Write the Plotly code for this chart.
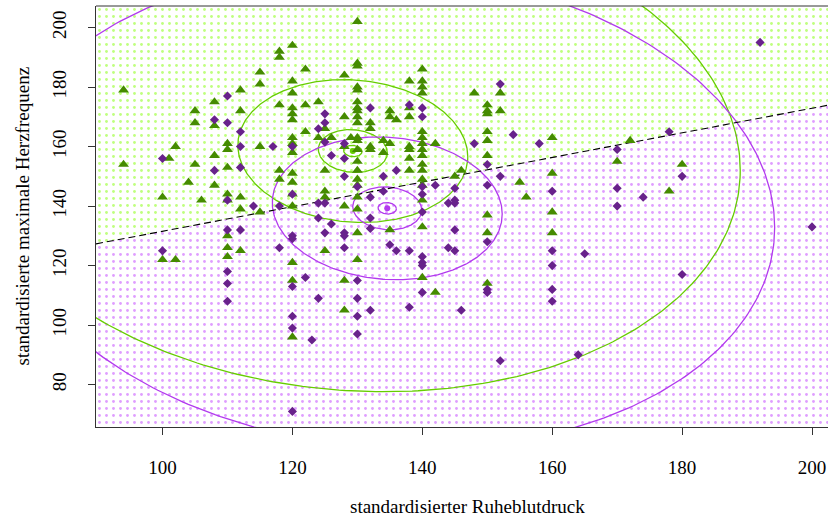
import numpy as np
import plotly.graph_objects as go

# ---- observations: resting blood pressure (x) vs. max heart rate (y) ----
healthy_x = [120, 118, 118, 122, 115, 115, 120, 120, 94, 112, 108, 124, 105, 112, 118, 120, 120, 120,
             122, 105, 108, 122, 125, 124, 126, 110, 110, 120, 120, 120, 115, 102, 108, 101,
             130, 130, 130, 130, 130, 132, 132, 135, 135, 138, 138, 128, 128, 130, 130, 130,
             130, 130, 130, 130, 130, 132, 134, 134, 135, 140, 140, 140, 140, 140, 140, 140,
             140, 140, 140, 138, 138, 138, 142, 145, 118, 118, 120, 120, 125, 125, 112, 112,
             115, 120, 128, 135, 140, 130, 125, 112,
             94, 110, 105, 104, 108, 100, 106, 110, 110, 120, 125, 110, 110, 110, 100, 102,
             120, 120, 120,
             150, 150, 160, 160, 130, 128, 140, 142, 150, 128,
             130, 130, 130, 128, 130, 130, 138, 140, 140, 140, 140, 148, 152, 150, 150, 150,
             152, 136, 150, 150, 150, 160, 129, 130, 132, 138,
             172, 170, 180, 178, 160, 146, 155, 156]
healthy_y = [194, 192, 190, 186, 185, 181, 182, 178, 179, 179, 175, 175, 172, 172, 174, 173, 171, 169,
             174, 168, 167, 165, 166, 163, 163, 161, 159, 163, 161, 158, 160, 160, 157, 156,
             175, 173, 172, 170, 168, 168, 166, 172, 170, 173, 170, 170, 160, 162, 159, 155,
             152, 149, 147, 143, 139, 159, 162, 158, 161, 165, 163, 161, 159, 157, 154, 152,
             149, 147, 142, 159, 156, 152, 161, 150, 152, 149, 148, 144, 145, 143, 143, 139,
             138, 140, 140, 132, 133, 131, 125, 125,
             154, 153, 154, 148, 147, 143, 142, 144, 142, 151, 152, 130, 126, 123, 122, 122,
             121, 115, 96,
             137, 131, 138, 131, 122, 115, 116, 111, 114, 105,
             202, 188, 187, 184, 180, 179, 182, 186, 182, 180, 178, 178, 178, 174, 172, 171,
             172, 169, 165, 162, 157, 163, 163, 163, 160, 160,
             162, 155, 154, 145, 151, 152, 148, 143]

disease_x = [110, 108, 110, 112, 112, 117, 120, 125, 125, 124, 125, 100, 126,
             132, 138, 140, 140, 128, 128, 112, 136, 134, 128, 130, 114, 118, 120, 124, 125,
             124, 126, 132, 132, 134, 140, 140, 142, 144, 145, 112, 120, 120, 118, 128, 128,
             128, 132, 135, 136, 140, 144, 145,
             108, 110, 125, 110, 100, 110, 110, 110, 120, 122, 124,
             120, 120, 123, 120,
             138, 140, 140, 140, 145, 145, 150, 150, 150, 130, 130, 130, 130, 132, 138, 140,
             146, 152, 160, 160, 160, 160, 164,
             152, 154, 148, 158,
             192, 178, 170, 180, 170, 174, 170, 165, 180, 200,
             150, 152, 150, 160, 145]
disease_y = [177, 169, 168, 165, 160, 160, 160, 171, 168, 166, 161.5, 156, 157,
             173, 174, 173, 170, 161, 156, 153, 152, 150, 150, 146.5, 140, 140, 144, 141, 141,
             136, 134, 143, 136, 145, 146.5, 144, 147, 141, 142, 132, 130, 129, 126, 131, 130,
             126, 132.5, 127, 125, 123, 126, 125,
             152, 142, 131, 132, 125, 118, 114, 108, 113, 116, 109,
             103, 99, 95, 71,
             125, 138, 121, 120, 132, 141, 128, 112, 111, 115, 109, 103, 97, 105, 106, 111,
             105, 88, 125, 120, 112, 108, 90,
             181, 164, 161, 161,
             195, 165, 159, 150, 146, 143, 140, 124, 117, 133,
             154, 150, 147, 145, 146]

# ---- fitted class model (means, pooled spread, correlation) ----
mean_healthy = [129.3, 158.5]
mean_disease = [134.6, 139.25]
sd_bp, sd_hr, corr = 17.7, 24.0, -0.08
contour_radii = [0.08, 0.30, 1.0, 3.37]

# ---- linear decision boundary ----
x_range = [89.76, 202.46]
y_range = [65.76, 207.24]
boundary_y = [127.3, 173.9]

GREEN_DOT, PURPLE_DOT = "#7FFF00", "#BF3EFF"
GREEN_LINE, PURPLE_LINE = "#66CD00", "#B23AEE"
GREEN_PT, PURPLE_PT = "#458B00", "#68228B"
FONT = "Liberation Serif"

fig = go.Figure()

# shaded decision regions
fig.add_trace(go.Scatter(
    x=[x_range[0], x_range[1], x_range[1], x_range[0], x_range[0]],
    y=[boundary_y[0], boundary_y[1], y_range[1], y_range[1], boundary_y[0]],
    mode="lines", line=dict(width=0), fill="toself", fillcolor="rgba(0,0,0,0)",
    fillpattern=dict(shape=".", fgcolor=GREEN_DOT, bgcolor="white", size=7, solidity=0.13),
    hoverinfo="skip", showlegend=False))
fig.add_trace(go.Scatter(
    x=[x_range[0], x_range[1], x_range[1], x_range[0], x_range[0]],
    y=[y_range[0], y_range[0], boundary_y[1], boundary_y[0], y_range[0]],
    mode="lines", line=dict(width=0), fill="toself", fillcolor="rgba(0,0,0,0)",
    fillpattern=dict(shape=".", fgcolor=PURPLE_DOT, bgcolor="white", size=7, solidity=0.13),
    hoverinfo="skip", showlegend=False))

# density contours (ellipses of constant Mahalanobis distance)
cov = np.array([[sd_bp ** 2, corr * sd_bp * sd_hr], [corr * sd_bp * sd_hr, sd_hr ** 2]])
chol = np.linalg.cholesky(cov)
t = np.linspace(0, 2 * np.pi, 400)
circle = np.vstack([np.cos(t), np.sin(t)])
for mean, col in [(mean_healthy, GREEN_LINE), (mean_disease, PURPLE_LINE)]:
    for r in contour_radii:
        pts = r * chol @ circle
        fig.add_trace(go.Scatter(x=mean[0] + pts[0], y=mean[1] + pts[1], mode="lines",
                                 line=dict(color=col, width=1.3), hoverinfo="skip",
                                 showlegend=False))
    fig.add_trace(go.Scatter(x=[mean[0]], y=[mean[1]], mode="markers",
                             marker=dict(symbol="circle", size=6, color=col),
                             hoverinfo="skip", showlegend=False))

# boundary
fig.add_trace(go.Scatter(x=x_range, y=boundary_y, mode="lines",
                         line=dict(color="black", width=1.1, dash="7px,4px"),
                         hoverinfo="skip", showlegend=False))

# observations
fig.add_trace(go.Scatter(x=healthy_x, y=healthy_y, mode="markers",
                         marker=dict(symbol="triangle-up", size=9.5, color=GREEN_PT),
                         showlegend=False))
fig.add_trace(go.Scatter(x=disease_x, y=disease_y, mode="markers",
                         marker=dict(symbol="diamond", size=7, color=PURPLE_PT),
                         showlegend=False))

axis_common = dict(showgrid=False, zeroline=False, showline=True, linecolor="#333",
                   linewidth=1, ticks="outside", ticklen=7, tickcolor="#333",
                   tickfont=dict(family=FONT, size=19, color="black"))
fig.update_xaxes(range=x_range, tickvals=[100, 120, 140, 160, 180, 200],
                 ticklabelstandoff=16, **axis_common)
fig.update_yaxes(range=y_range, tickvals=[80, 100, 120, 140, 160, 180, 200],
                 tickangle=-90, ticklabelstandoff=14, **axis_common)

fig.add_shape(type="line", xref="paper", yref="paper", x0=0, x1=1, y0=1, y1=1,
              line=dict(color="#333", width=1))

fig.add_annotation(text="standardisierter Ruheblutdruck", xref="paper", yref="paper",
                   x=0.508, y=0, yshift=-79, showarrow=False, xanchor="center",
                   yanchor="middle", font=dict(family=FONT, size=19, color="black"))
fig.add_annotation(text="standardisierte maximale Herzfrequenz", xref="paper", yref="paper",
                   x=0, y=0.5, xshift=-74, showarrow=False, textangle=-90,
                   xanchor="center", yanchor="middle",
                   font=dict(family=FONT, size=19, color="black"))

fig.update_layout(width=828, height=520, autosize=False,
                  margin=dict(l=96, r=0, t=6, b=93),
                  plot_bgcolor="white", paper_bgcolor="white")

fig.write_html("out.html")
